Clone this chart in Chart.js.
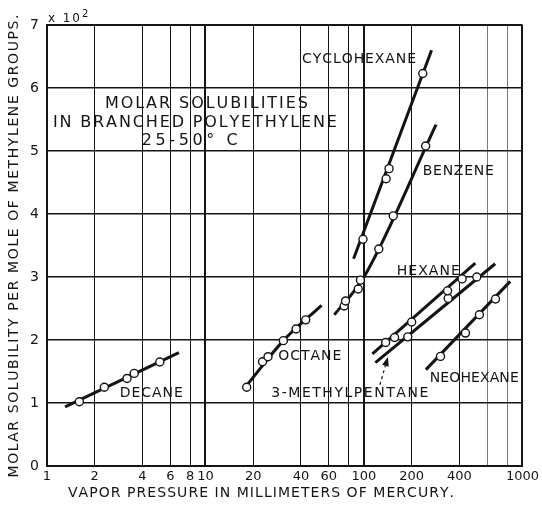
<!DOCTYPE html>
<html>
<head>
<meta charset="utf-8">
<title>Molar solubilities in branched polyethylene</title>
<script src="https://cdn.jsdelivr.net/npm/chart.js@4.4.1/dist/chart.umd.min.js"></script>
<style>
  html, body { margin: 0; padding: 0; background: #fff; }
  #wrap { width: 542px; height: 506px; }
</style>
</head>
<body>
<div id="wrap"><canvas id="chart" width="542" height="506"></canvas></div>
<script>
const INK = '#141414'; // print colour
const FONT = '"DejaVu Sans", sans-serif';

// axis ticks (vapor pressure, mm Hg / solubility x 10^2)
const xTicks = [1, 2, 4, 6, 8, 10, 20, 40, 60, 80, 100, 200, 400, 600, 800, 1000];
const xTickLabels = ['1', '2', '4', '6', '8', '10', '20', '40', '60', '', '100', '200', '400', '', '', '1000'];
const yTicks = [0, 1, 2, 3, 4, 5, 6, 7];

// measured points: pressure (P) and solubility (S)
const decaneP = [1.6, 2.3, 3.2, 3.55, 5.15];
const decaneS = [1.02, 1.25, 1.39, 1.47, 1.65];
const octaneP = [18.2, 22.9, 24.8, 31.0, 37.3, 42.9];
const octaneS = [1.25, 1.655, 1.735, 1.99, 2.175, 2.32];
const benzeneP = [75, 76.5, 92, 95, 124, 153, 245];
const benzeneS = [2.54, 2.62, 2.81, 2.95, 3.445, 3.97, 5.08];
const cyclohexaneP = [98.6, 138, 144, 235];
const cyclohexaneS = [3.60, 4.56, 4.72, 6.23];
const hexaneP = [137, 156, 200, 337, 416];
const hexaneS = [1.96, 2.04, 2.285, 2.78, 2.97];
const methylpentaneP = [189, 340, 515];
const methylpentaneS = [2.05, 2.66, 3.0];
const neohexaneP = [304, 437, 535, 676];
const neohexaneS = [1.74, 2.11, 2.40, 2.65];

// drawn curves through the points
const decaneFitP = [1.3, 6.8];
const decaneFitS = [0.94, 1.80];
const octaneFitP = [18.6, 31, 54];
const octaneFitS = [1.31, 1.99, 2.55];
const benzeneFitP = [65, 100, 285];
const benzeneFitS = [2.40, 3.0, 5.42];
const cyclohexaneFitP = [86, 267];
const cyclohexaneFitS = [3.29, 6.6];
const hexaneFitP = [113, 504];
const hexaneFitS = [1.78, 3.22];
const methylpentaneFitP = [118, 673];
const methylpentaneFitS = [1.64, 3.21];
const neohexaneFitP = [246, 837];
const neohexaneFitS = [1.53, 2.93];

// text on the plot: left edge + baseline in data units, width in px
const labels = [
    { text: 'CYCLOHEXANE', p: 40.7, s: 6.40, w: 114, size: 14 },
    { text: 'BENZENE', p: 235, s: 4.62, w: 71, size: 14 },
    { text: 'HEXANE', p: 161, s: 3.03, w: 63, size: 14 },
    { text: 'NEOHEXANE', p: 260, s: 1.33, w: 89, size: 14 },
    { text: '3-METHYLPENTANE', p: 26.0, s: 1.10, w: 157, size: 14 },
    { text: 'OCTANE', p: 28.8, s: 1.68, w: 63, size: 14 },
    { text: 'DECANE', p: 2.88, s: 1.10, w: 63, size: 14 },
    { text: 'MOLAR SOLUBILITIES', p: 2.32, s: 5.68, w: 203, size: 16 },
    { text: 'IN BRANCHED POLYETHYLENE', p: 1.09, s: 5.38, w: 284, size: 16 },
    { text: '25-50° C', p: 3.96, s: 5.095, w: 96, size: 16 },
];
const arrowFrom = { p: 126, s: 1.29 }; // dashed pointer to 3-methylpentane
const arrowTo = { p: 141.6, s: 1.73 };

const pts = (xs, ys) => xs.map((v, i) => ({ x: v, y: ys[i] })); // pair up arrays

const pointSet = (xs, ys) => ({
    data: pts(xs, ys),
    showLine: false,
    pointRadius: 4,
    pointBorderWidth: 1.4,
    pointBackgroundColor: '#fff',
    pointBorderColor: INK,
    order: 1,
});
const lineSet = (xs, ys) => ({
    data: pts(xs, ys),
    showLine: true,
    borderColor: INK,
    borderWidth: 3,
    pointRadius: 0,
    tension: 0.4,
    cubicInterpolationMode: 'monotone',
    order: 2,
});

const spaced = (ctx, text, x, y, width) => { // draw text stretched to a given width
    const chars = [...text];
    const ws = chars.map(c => ctx.measureText(c).width);
    const natural = ws.reduce((a, b) => a + b, 0);
    const gap = chars.length > 1 ? (width - natural) / (chars.length - 1) : 0;
    let cx = x;
    chars.forEach((c, i) => { ctx.fillText(c, cx, y); cx += ws[i] + gap; });
};

const annotate = {
    id: 'annotate',
    afterDraw(chart) {
        const { ctx, chartArea: a } = chart;
        const sx = chart.scales.x, sy = chart.scales.y;
        ctx.save();
        ctx.fillStyle = INK;
        ctx.strokeStyle = INK;
        ctx.textAlign = 'left';
        ctx.textBaseline = 'alphabetic';
        labels.forEach(l => {
            ctx.font = `${l.size}px ${FONT}`;
            spaced(ctx, l.text, sx.getPixelForValue(l.p), sy.getPixelForValue(l.s), l.w);
        });

        // pointer arrow
        const x0 = sx.getPixelForValue(arrowFrom.p), y0 = sy.getPixelForValue(arrowFrom.s);
        const x1 = sx.getPixelForValue(arrowTo.p), y1 = sy.getPixelForValue(arrowTo.s);
        const len = Math.hypot(x1 - x0, y1 - y0);
        const ux = (x1 - x0) / len, uy = (y1 - y0) / len;
        ctx.lineWidth = 1.2;
        ctx.setLineDash([3, 3]);
        ctx.beginPath();
        ctx.moveTo(x0, y0);
        ctx.lineTo(x1 - ux * 7, y1 - uy * 7);
        ctx.stroke();
        ctx.setLineDash([]);
        ctx.beginPath();
        ctx.moveTo(x1, y1);
        ctx.lineTo(x1 - ux * 9 - uy * 3.5, y1 - uy * 9 + ux * 3.5);
        ctx.lineTo(x1 - ux * 9 + uy * 3.5, y1 - uy * 9 - ux * 3.5);
        ctx.closePath();
        ctx.fill();

        // multiplier above the y axis
        ctx.font = `12px ${FONT}`;
        spaced(ctx, 'x 10', a.left + 1, a.top - 3, 32);
        ctx.font = `10px ${FONT}`;
        ctx.fillText('2', a.left + 35, a.top - 8);

        // axis titles
        ctx.font = `14px ${FONT}`;
        spaced(ctx, 'VAPOR PRESSURE IN MILLIMETERS OF MERCURY.', a.left + 21, a.bottom + 31, 386);
        ctx.translate(14, (a.top + a.bottom) / 2);
        ctx.rotate(-Math.PI / 2);
        ctx.textBaseline = 'middle';
        spaced(ctx, 'MOLAR SOLUBILITY PER MOLE OF METHYLENE GROUPS.', -232, 0, 463);
        ctx.restore();
    },
};

const xWidth = (c) => { // heavier decade lines
    const v = c.tick && c.tick.value;
    if (v === 1 || v === 1000) return 2;
    if (v === 10 || v === 100) return 2;
    return 1;
};
const xColor = (c) => {
    const v = c.tick && c.tick.value;
    return (v === 600 || v === 800) ? '#777' : INK;
};

new Chart(document.getElementById('chart'), {
    type: 'scatter',
    data: {
        datasets: [
            lineSet(decaneFitP, decaneFitS),
            lineSet(octaneFitP, octaneFitS),
            lineSet(benzeneFitP, benzeneFitS),
            lineSet(cyclohexaneFitP, cyclohexaneFitS),
            lineSet(hexaneFitP, hexaneFitS),
            lineSet(methylpentaneFitP, methylpentaneFitS),
            lineSet(neohexaneFitP, neohexaneFitS),
            pointSet(decaneP, decaneS),
            pointSet(octaneP, octaneS),
            pointSet(benzeneP, benzeneS),
            pointSet(cyclohexaneP, cyclohexaneS),
            pointSet(hexaneP, hexaneS),
            pointSet(methylpentaneP, methylpentaneS),
            pointSet(neohexaneP, neohexaneS),
        ],
    },
    options: {
        responsive: false,
        animation: false,
        layout: { padding: { left: 0, right: 19, top: 25, bottom: 0 } },
        plugins: { legend: { display: false }, tooltip: { enabled: false } },
        scales: {
            x: {
                type: 'logarithmic',
                min: 1,
                max: 1000,
                afterBuildTicks: (scale) => { scale.ticks = xTicks.map(v => ({ value: v })); },
                afterFit: (scale) => { scale.height = 40; },
                ticks: {
                    autoSkip: false,
                    maxRotation: 0,
                    padding: 3,
                    color: INK,
                    font: { family: FONT, size: 13 },
                    callback: (v) => { const i = xTicks.indexOf(v); return i >= 0 ? xTickLabels[i] : ''; },
                },
                grid: { drawTicks: false, color: xColor, lineWidth: xWidth },
                border: { display: true, color: INK, width: 2 },
            },
            y: {
                min: 0,
                max: 7,
                afterBuildTicks: (scale) => { scale.ticks = yTicks.map(v => ({ value: v })); },
                afterFit: (scale) => { scale.width = 47; },
                ticks: {
                    padding: 8,
                    color: INK,
                    font: { family: FONT, size: 14 },
                },
                grid: {
                    drawTicks: false,
                    color: INK,
                    lineWidth: (c) => (c.tick && (c.tick.value === 0 || c.tick.value === 7)) ? 2 : 1.4,
                },
                border: { display: true, color: INK, width: 2 },
            },
        },
    },
    plugins: [annotate],
});
</script>
</body>
</html>
